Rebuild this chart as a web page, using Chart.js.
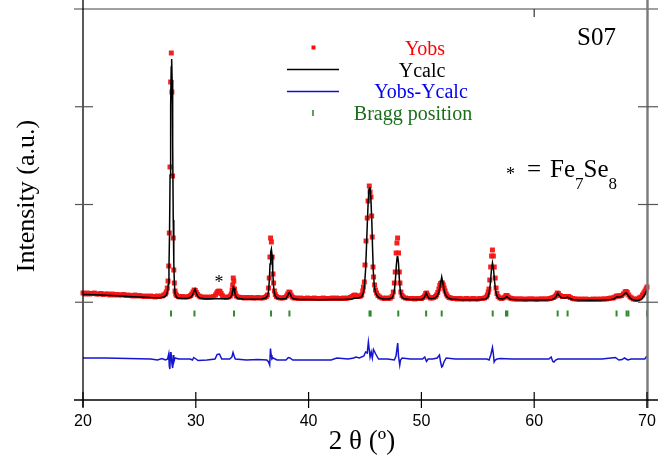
<!DOCTYPE html>
<html>
<head>
<meta charset="utf-8">
<script src="https://cdn.jsdelivr.net/npm/chart.js@4.4.1/dist/chart.umd.min.js"></script>
<style>
  html, body { margin: 0; padding: 0; background: #fff; }
  #wrap { width: 658px; height: 461px; }
</style>
</head>
<body>
<div id="wrap"><canvas id="c" width="658" height="461"></canvas></div>
<script>
// ---------- DATA ----------
const xTicks = [20, 30, 40, 50, 60, 70];

// Observed pattern (Yobs)
const obsTheta = [
20.0,20.2,20.4,20.6,20.8,21.0,21.2,21.4,21.6,21.8,22.0,22.2,22.4,22.6,22.8,23.0,23.2,23.4,23.6,23.8,
24.0,24.2,24.4,24.6,24.8,25.0,25.2,25.4,25.6,25.8,26.0,26.2,26.4,26.6,26.8,27.0,27.15,27.3,27.38,27.47,
27.54,27.6,27.65,27.71,27.77,27.83,27.88,27.94,28.0,28.05,28.1,28.16,28.22,28.3,28.45,28.6,28.8,29.0,29.2,29.4,
29.55,29.65,29.75,29.85,29.95,30.05,30.15,30.3,30.45,30.6,30.8,31.0,31.2,31.4,31.6,31.75,31.85,31.95,32.05,32.15,
32.25,32.35,32.5,32.7,32.9,33.05,33.15,33.22,33.27,33.32,33.37,33.43,33.5,33.6,33.75,33.9,34.1,34.3,34.5,34.7,
34.9,35.1,35.3,35.5,35.7,35.9,36.1,36.25,36.35,36.45,36.51,36.57,36.63,36.7,36.77,36.84,36.9,36.97,37.05,37.15,
37.3,37.5,37.7,37.9,38.05,38.15,38.25,38.35,38.45,38.55,38.7,38.9,39.1,39.3,39.5,39.7,39.9,40.1,40.3,40.5,
40.7,40.9,41.1,41.3,41.5,41.7,41.9,42.1,42.3,42.5,42.7,42.9,43.1,43.3,43.5,43.7,43.85,44.0,44.1,44.2,
44.3,44.45,44.6,44.71,44.8,44.86,44.94,45.0,45.09,45.2,45.27,45.38,45.45,45.53,45.59,45.64,45.71,45.76,45.85,45.93,
46.03,46.15,46.3,46.5,46.7,46.9,47.1,47.25,47.4,47.51,47.6,47.68,47.76,47.83,47.89,47.97,48.04,48.1,48.18,48.28,
48.4,48.6,48.8,49.0,49.2,49.4,49.6,49.8,50.0,50.15,50.28,50.38,50.46,50.55,50.65,50.8,50.95,51.1,51.25,51.35,
51.45,51.55,51.63,51.7,51.78,51.86,51.94,52.02,52.1,52.2,52.3,52.45,52.6,52.8,53.0,53.2,53.4,53.6,53.8,54.0,
54.2,54.4,54.6,54.8,55.0,55.2,55.4,55.6,55.75,55.85,55.93,55.99,56.06,56.14,56.22,56.3,56.38,56.46,56.54,56.62,
56.7,56.8,56.95,57.1,57.25,57.4,57.5,57.6,57.7,57.85,58.0,58.2,58.4,58.6,58.8,59.0,59.2,59.4,59.6,59.8,
60.0,60.2,60.4,60.6,60.8,61.0,61.2,61.4,61.55,61.7,61.85,61.95,62.05,62.15,62.3,62.5,62.7,62.9,63.05,63.2,
63.4,63.6,63.8,64.0,64.2,64.4,64.6,64.8,65.0,65.2,65.4,65.6,65.8,66.0,66.2,66.4,66.6,66.8,67.0,67.15,
67.3,67.45,67.6,67.75,67.9,68.05,68.15,68.25,68.38,68.5,68.65,68.8,69.0,69.15,69.3,69.45,69.6,69.72,69.82,69.92,
70.0];
const obsInt = [
107,106,107,106,106.5,107,106,106,106.5,105.5,106,106,105,106,105,105.5,105,105,105.5,104.5,
105,104.5,104,105,104,104.5,104,103.5,104,103.5,104,103.5,103,104,103.5,104,105,106,108,112,
119,134,167,233,318,347,308,224,162,130,117,109,106,104.5,103.5,103,103.5,103,103,103.5,
104.5,106,108,110,109.5,107.5,105.5,104,103,103,102.5,103,102.5,103,103.5,105,107,108.5,109,108.5,
106.5,104.5,103,102.5,103,104,106,110,115,122,119,111,106.5,104,103,102.5,102.5,102,102.5,102,
102.5,102,102,102.5,102,102,102.5,103.5,105,112,122,143,162,158,143,126,117,109,105.5,103.5,
102.5,102,102,102.5,104,106,108,107.5,105,103,102,102,101.5,102,101.5,101.5,102,101.5,101.5,102,
101.5,101.5,101.5,102,101.5,101.5,101.5,102,101.5,102,101.5,101.5,102,101.5,102,102.5,103.5,104.5,105,104.5,
103.5,103.5,104,105,109,113,118,135,159,182,199,214,208,203,184,163,133,123,115,110,
107,104.5,103,102,101.5,102,101.5,102,103.5,108,117,128,147,157,162,147,128,117,108,104.5,
103,102,101.5,101.5,101.5,101,101.5,101.5,101.5,102.5,104,106.5,107,105,103,102,102,102.5,103.5,105,
107.5,111,114.5,116.5,117,117,115,112,109,106,104,102.5,102,101.5,101.5,101,101.5,101,101,101.5,
101,101,101.5,101,101,101.5,101.5,102,103,105,108,111,120,133,144,150,144,133,122,112,
106.5,103.5,102,101.5,102,103,104.5,104.5,103,102,101.5,101,101,101,101,101,100.5,101,101,101,
101,100.5,101,101,101,101,101,101.5,102,102.5,103.5,105,107,106.5,104.5,103.5,103.5,103.5,103.5,102.5,
101.5,101,101,100.5,101,100.5,101,100.5,100.5,101,100.5,101,100.5,101,101,101,101.5,102,102,103,
104,104,104,104.5,106,108,108.5,107.5,105,103,102,101,100.5,101,102,103,105,107,109,111,
113];

// Calculated pattern (Ycalc)
const calcTheta = [
20.0,21,22,23,24,25,26,26.8,27.2,27.4,27.5,27.56,27.62,27.67,27.72,27.77,27.82,27.86,27.9,27.95,
28.0,28.05,28.1,28.16,28.25,28.4,28.8,29.3,29.6,29.75,29.85,29.93,30.02,30.15,30.35,30.8,31.5,32.2,32.9,33.1,
33.2,33.27,33.33,33.39,33.46,33.55,33.7,34.2,35,35.8,36.2,36.35,36.45,36.52,36.58,36.64,36.7,36.76,36.82,36.88,
36.95,37.05,37.2,37.6,38.0,38.12,38.22,38.3,38.38,38.48,38.65,39.2,40,41,42,43,43.8,44.1,44.4,44.7,
44.85,44.95,45.05,45.12,45.2,45.28,45.36,45.44,45.52,45.6,45.67,45.74,45.82,45.92,46.05,46.25,46.6,47.1,47.4,47.52,
47.62,47.7,47.78,47.85,47.9,47.97,48.04,48.12,48.22,48.4,49,50.0,50.2,50.32,50.42,50.52,50.65,50.9,51.2,51.4,
51.55,51.68,51.8,51.9,52.0,52.12,52.3,52.6,53.5,55,55.7,55.9,56.0,56.1,56.2,56.3,56.4,56.5,56.6,56.7,
56.85,57.2,57.42,57.56,57.7,57.9,58.5,60,61,61.6,61.8,61.95,62.08,62.2,62.4,62.7,62.95,63.15,63.4,64,
65,66,66.8,67.1,67.3,67.5,67.7,67.9,68.05,68.15,68.3,68.5,68.7,69,69.25,69.45,69.6,69.75,69.88,70];
const calcInt = [
105.5,105.2,104.8,104.3,103.6,103,102.4,102.2,103,105,109,116,132,165,225,295,333,341,320,255,
180,137,117,107,103.5,102,101.5,101.7,103,106,109,111,108,104,102,101.3,101.2,101.2,101.5,102.5,
105,109,113,112,107,103.5,101.8,101,100.8,101,102,104,109,120,136,148,151,145,129,116,
108,104,101.8,101,101.5,103.5,106.5,107.5,106,103,101.2,100.5,100.5,100.3,100.4,100.5,101,101.8,102,103,
107,114,130,150,175,198,211,213,202,180,152,128,115,108,104.5,102.2,101,101,102,105,
111,121,135,143,144,137,122,110,104,101.5,100.5,100.5,101.5,104,107,104.5,101.8,101.2,102,104,
108,115,123,117,110.5,105.5,102.5,101,100.3,100.3,101,103,107,115,129,137,130,117,108,104,
101.5,101,102,103.5,102,100.8,100.2,100,100,100.5,101.5,103.5,107,104.5,102.5,102,102.8,101.8,100.6,100,
99.8,100,100.5,101.2,103,103,103.2,105,106.5,107,105,102,100.5,99.6,99.5,100.5,102,104.5,107,110];

// Difference curve (Yobs - Ycalc, shifted down)
const diffTheta = [
20,22,24,26,26.6,27.0,27.3,27.5,27.6,27.65,27.7,27.75,27.8,27.85,27.9,27.95,28.0,28.05,28.15,28.5,
29.0,29.5,29.7,29.82,29.95,30.2,31.0,31.7,31.9,32.1,32.3,33.0,33.2,33.3,33.4,33.5,34.5,35.5,36.3,36.45,
36.55,36.62,36.68,36.75,36.85,37.2,38.0,38.2,38.35,38.6,40,42,42.5,43.5,44.0,44.2,44.5,44.9,45.05,45.2,
45.3,45.38,45.45,45.55,45.65,45.75,45.95,46.2,47,47.6,47.75,47.9,47.97,48.08,48.15,48.3,49,50.1,50.3,50.45,
50.6,51.0,51.4,51.6,51.7,51.8,51.88,52.0,52.2,53,55.8,56.0,56.15,56.3,56.38,56.45,56.55,56.7,57,58,
60,61.3,61.5,61.65,61.75,61.9,62.1,63,66,67.2,67.5,67.8,68.0,68.3,68.6,69.5,69.8,70];
const diffInt = [
42,42,41.5,41,40,41.5,40,41,46,34,31,47,48,40,35,32,45,38,42,41,
41,41,40,42.5,41.5,39.5,40,41,45.5,46,41,41,43,47.5,44,41,40,40.5,40,38,
35,51.5,45,41,42,40,40,42.5,42,40,40,40,42,41,42,43,42,44,48,47,
58,50,43,48,42,50.5,46,41,41,40,44,57,44,35,40,42,41,41,43,38.5,
41,41,42,45,38,33,34,38,42,41,41,40,45,52.5,46,38,40,41,41.5,41,
41,41,43,38.5,38,40,41,41,41,42.5,40,40.5,42,40,41,41,41,44];

// Bragg reflection positions
const braggTheta = [27.80, 29.88, 33.39, 36.67, 38.30, 45.40, 45.50, 47.95, 50.42, 51.80,
                    56.32, 57.50, 57.62, 62.08, 62.96, 67.30, 68.19, 68.35, 70.00];
const braggLevel = [86.5];

// Axis settings (intensity in arbitrary units)
const yMin = 0, yMax = 391, yStep = 97.75;

// ---------- CHART ----------
const toXY = (xs, ys) => xs.map((x, i) => ({ x: x, y: ys[i] }));
const SERIF = '"Liberation Serif", "Times New Roman", serif';
const SANS = '"Liberation Sans", Arial, sans-serif';

const decor = {
  id: 'decor',
  afterDraw(chart) {
    const ctx = chart.ctx;
    const xs = chart.scales.x, ys = chart.scales.y;
    const L = xs.left, R = xs.right, T = ys.top, B = ys.bottom;
    ctx.save();
    // frame
    ctx.strokeStyle = '#808080'; ctx.lineWidth = 1.4;
    ctx.beginPath(); ctx.moveTo(L - 9, T); ctx.lineTo(658, T); ctx.stroke();
    ctx.strokeStyle = '#7a7a7a'; ctx.lineWidth = 2.4;
    ctx.beginPath(); ctx.moveTo(R + 0.5, 0); ctx.lineTo(R + 0.5, B + 8); ctx.stroke();
    ctx.strokeStyle = '#000'; ctx.lineWidth = 1.3;
    ctx.beginPath(); ctx.moveTo(L, 0); ctx.lineTo(L, B + 7); ctx.stroke();
    ctx.beginPath(); ctx.moveTo(L - 9, B); ctx.lineTo(658, B); ctx.stroke();
    // bottom ticks
    ctx.lineWidth = 1.2; ctx.strokeStyle = '#000';
    xTicks.forEach(v => {
      const px = xs.getPixelForValue(v);
      ctx.beginPath(); ctx.moveTo(px, B - 8); ctx.lineTo(px, B + 8); ctx.stroke();
    });
    // top tick
    ctx.strokeStyle = '#333';
    const p60 = xs.getPixelForValue(60);
    ctx.beginPath(); ctx.moveTo(p60, T); ctx.lineTo(p60, T + 8); ctx.stroke();
    // left & right ticks
    ctx.strokeStyle = '#555';
    for (let v = yStep; v < yMax - 1; v += yStep) {
      const py = ys.getPixelForValue(v);
      ctx.beginPath(); ctx.moveTo(L - 8, py); ctx.lineTo(L + 10, py); ctx.stroke();
      ctx.beginPath(); ctx.moveTo(R - 9, py); ctx.lineTo(658, py); ctx.stroke();
    }
    // axis titles
    ctx.fillStyle = '#000';
    ctx.font = '27px ' + SERIF;
    ctx.textAlign = 'center'; ctx.textBaseline = 'alphabetic';
    ctx.fillText('2 \u03B8 (\u00BA)', 362, 449);
    ctx.save();
    ctx.translate(34, 196); ctx.rotate(-Math.PI / 2);
    ctx.font = '26px ' + SERIF;
    ctx.fillText('Intensity (a.u.)', 0, 0);
    ctx.restore();
    // legend
    ctx.fillStyle = '#f01010';
    ctx.fillRect(311.5, 45.5, 4, 4);
    ctx.strokeStyle = '#000'; ctx.lineWidth = 1.4;
    ctx.beginPath(); ctx.moveTo(287, 69.5); ctx.lineTo(339, 69.5); ctx.stroke();
    ctx.strokeStyle = '#1010d0';
    ctx.beginPath(); ctx.moveTo(287, 91.5); ctx.lineTo(339, 91.5); ctx.stroke();
    ctx.strokeStyle = '#2e8b2e'; ctx.lineWidth = 1.6;
    ctx.beginPath(); ctx.moveTo(313, 110); ctx.lineTo(313, 116); ctx.stroke();
    ctx.font = '20px ' + SERIF;
    ctx.textAlign = 'center';
    ctx.fillStyle = '#ff0000'; ctx.fillText('Yobs', 425, 55);
    ctx.fillStyle = '#000'; ctx.fillText('Ycalc', 422, 77);
    ctx.fillStyle = '#0000ee'; ctx.fillText('Yobs-Ycalc', 421, 98);
    ctx.fillStyle = '#1a6e1a'; ctx.fillText('Bragg position', 413, 120);
    // sample label
    ctx.fillStyle = '#000';
    ctx.textAlign = 'left';
    ctx.font = '25px ' + SERIF;
    ctx.fillText('S07', 577, 45);
    // phase note
    ctx.font = '18px ' + SERIF;
    ctx.fillText('*', 506, 180);
    ctx.font = '25px ' + SERIF;
    let x = 527;
    ctx.fillText('=', x, 177); x = 550;
    ctx.fillText('Fe', x, 177); x += ctx.measureText('Fe').width;
    ctx.font = '17px ' + SERIF; ctx.fillText('7', x, 189); x += ctx.measureText('7').width;
    ctx.font = '25px ' + SERIF; ctx.fillText('Se', x, 177); x += ctx.measureText('Se').width;
    ctx.font = '17px ' + SERIF; ctx.fillText('8', x, 189);
    // impurity marker on the pattern
    ctx.font = '18px ' + SERIF; ctx.textAlign = 'center';
    ctx.fillText('*', xs.getPixelForValue(32.05), ys.getPixelForValue(109) - 3);
    ctx.restore();
  }
};

new Chart(document.getElementById('c'), {
  type: 'scatter',
  data: {
    datasets: [
      { label: 'Ycalc', data: toXY(calcTheta, calcInt), showLine: true, borderColor: '#000',
        borderWidth: 1.5, pointRadius: 0, order: 0, clip: false },
      { label: 'Yobs', data: toXY(obsTheta, obsInt), showLine: false, pointStyle: 'rect',
        pointRadius: 3.5, backgroundColor: 'rgba(245,20,20,0.95)', borderWidth: 0, order: 1, clip: false },
      { label: 'Yobs-Ycalc', data: toXY(diffTheta, diffInt), showLine: true, borderColor: '#1414d2',
        borderWidth: 1.5, pointRadius: 0, order: 2, clip: false },
      { label: 'Bragg position', data: braggTheta.map(t => ({ x: t, y: braggLevel[0] })), showLine: false,
        pointStyle: 'line', rotation: 90, pointRadius: 3, borderColor: '#2e8b2e', borderWidth: 2, order: 3, clip: false }
    ]
  },
  options: {
    responsive: false, animation: false, devicePixelRatio: 1,
    layout: { padding: { left: 0, right: 11, top: 9, bottom: 0 } },
    plugins: { legend: { display: false }, tooltip: { enabled: false }, title: { display: false } },
    scales: {
      x: {
        type: 'linear', min: 20, max: 70,
        grid: { display: false, drawTicks: false }, border: { display: false },
        ticks: { stepSize: 10, color: '#000', padding: 12, font: { family: SANS, size: 16 } },
        afterFit: s => { s.height = 61; s.paddingLeft = 0; s.paddingRight = 0; }
      },
      y: {
        type: 'linear', min: yMin, max: yMax,
        grid: { display: false, drawTicks: false }, border: { display: false },
        ticks: { display: false, stepSize: yStep },
        afterFit: s => { s.width = 83; s.paddingTop = 0; s.paddingBottom = 0; }
      }
    }
  },
  plugins: [decor]
});
</script>
</body>
</html>
